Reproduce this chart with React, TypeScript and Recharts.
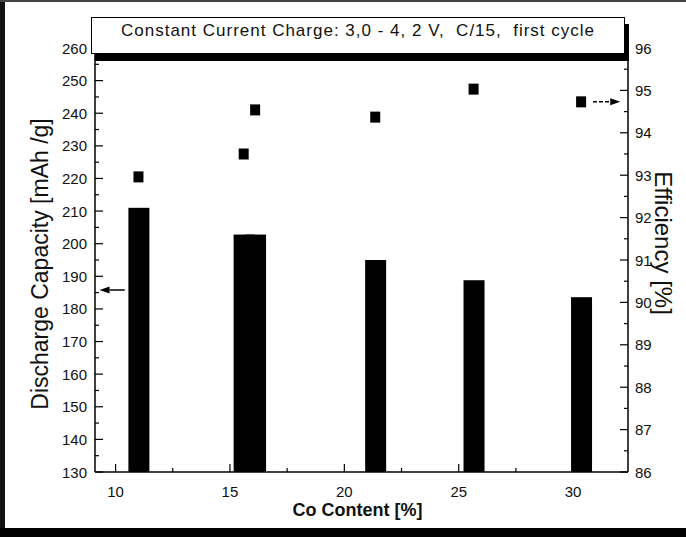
import React from 'react';
import { ComposedChart, Bar, Scatter, XAxis, YAxis, ReferenceLine, Label } from 'recharts';

const FONT = '"Liberation Sans", Arial, Helvetica, sans-serif';

// Co content [%] of each sample
const coContent = [11.0, 15.6, 16.1, 21.35, 25.65, 30.35];
// first-cycle discharge capacity [mAh/g] -> bars, left axis
const capacity = [211, 202.8, 202.8, 195, 188.8, 183.6];
// efficiency [%] -> squares, right axis
const efficiency = [92.96, 93.5, 94.54, 94.37, 95.03, 94.73];

const xTicks = [10, 12.5, 15, 17.5, 20, 22.5, 25, 27.5, 30];
const capTicks = [130, 135, 140, 145, 150, 155, 160, 165, 170, 175, 180, 185, 190, 195, 200, 205, 210, 215, 220, 225, 230, 235, 240, 245, 250, 255, 260];
const effTicks = [86, 86.5, 87, 87.5, 88, 88.5, 89, 89.5, 90, 90.5, 91, 91.5, 92, 92.5, 93, 93.5, 94, 94.5, 95, 95.5, 96];

// arrows pointing at the axis each series belongs to
const capArrow = { y: 185.8, from: 10.4, to: 9.3 };
const effArrow = { y: 94.73, from: 30.87, to: 32.06 };

const rows = coContent.map((x, i) => ({ x, cap: capacity[i], eff: efficiency[i] }));

const TM = 6; // tick margin on every axis
const BAR_W = 21;

const LeftTick = (p: any) => {
  const v = p.payload.value;
  const ax = p.x + TM;
  const major = v % 10 === 0;
  return (
    <g>
      <line x1={ax} x2={ax + (major ? 8 : 4)} y1={p.y} y2={p.y} stroke="#000" strokeWidth={1.2} />
      {major && (
        <text x={ax - 8} y={p.y} textAnchor="end" dominantBaseline="central" fontSize={15} fill="#111" fontFamily={FONT}>
          {v}
        </text>
      )}
    </g>
  );
};

const RightTick = (p: any) => {
  const v = p.payload.value;
  const ax = p.x - TM;
  const major = Number.isInteger(v);
  return (
    <g>
      <line x1={ax - (major ? 8 : 4)} x2={ax} y1={p.y} y2={p.y} stroke="#000" strokeWidth={1.2} />
      {major && (
        <text x={ax + 7} y={p.y} textAnchor="start" dominantBaseline="central" fontSize={15} fill="#111" fontFamily={FONT}>
          {v}
        </text>
      )}
    </g>
  );
};

const BottomTick = (p: any) => {
  const v = p.payload.value;
  const ay = p.y - TM;
  const major = v % 5 === 0;
  return (
    <g>
      <line x1={p.x} x2={p.x} y1={ay} y2={ay - (major ? 8 : 4)} stroke="#000" strokeWidth={1.2} />
      {major && (
        <text x={p.x} y={ay + 25} textAnchor="middle" fontSize={15} fill="#111" fontFamily={FONT}>
          {v}
        </text>
      )}
    </g>
  );
};

// bars keep a fixed width even where two samples sit close together
const FixedBar = (p: any) => {
  const cx = p.x + p.width / 2;
  return <rect x={cx - BAR_W / 2} y={p.y} width={BAR_W} height={p.height} fill="#000" />;
};

const Square = (p: any) => <rect x={p.cx - 5} y={p.cy - 5.5} width={10} height={11} fill="#000" />;

const Arrow = (dashed: boolean) => (p: any) => {
  const { x1, y1, x2 } = p;
  const dir = x2 > x1 ? 1 : -1;
  const base = x2 - dir * 10;
  return (
    <g>
      <line x1={x1} y1={y1} x2={base} y2={y1} stroke="#000" strokeWidth={1.5} strokeDasharray={dashed ? '4 2' : undefined} />
      <polygon points={`${x2},${y1} ${base},${y1 - 3.5} ${base},${y1 + 3.5}`} fill="#000" />
    </g>
  );
};

const LeftTitle = (p: any) => {
  const { x, y, height } = p.viewBox;
  const cx = x + 5;
  const cy = y + height / 2 + 4;
  return (
    <text x={cx} y={cy} transform={`rotate(-90 ${cx} ${cy})`} textAnchor="middle" dominantBaseline="central" fontSize={23} fill="#111" fontFamily={FONT}>
      Discharge Capacity [mAh /g]
    </text>
  );
};

const RightTitle = (p: any) => {
  const { x, y, height } = p.viewBox;
  const cx = x + 35;
  const cy = y + height / 2 - 17;
  return (
    <text x={cx} y={cy} transform={`rotate(90 ${cx} ${cy})`} textAnchor="middle" dominantBaseline="central" fontSize={24} fill="#111" fontFamily={FONT}>
      Efficiency [%]
    </text>
  );
};

const BottomTitle = (p: any) => {
  const { x, y, width } = p.viewBox;
  return (
    <text x={x + width / 2 - 4} y={y + 44} textAnchor="middle" fontSize={18} fontWeight="bold" fill="#111" fontFamily={FONT}>
      Co Content [%]
    </text>
  );
};

export default function App() {
  return (
    <div style={{ position: 'absolute', left: 0, top: 0, width: 686, height: 537, background: '#fff', overflow: 'hidden', fontFamily: FONT }}>
      <ComposedChart width={686} height={537} data={rows} margin={{ top: 48, right: 8, bottom: 25, left: 35 }}>
        <XAxis
          dataKey="x"
          type="number"
          domain={[9.1, 32.4]}
          allowDataOverflow
          ticks={xTicks}
          interval={0}
          tickSize={0}
          tickMargin={TM}
          tickLine={false}
          tick={BottomTick}
          height={40}
          axisLine={{ stroke: '#000', strokeWidth: 1.5 }}
        >
          <Label content={BottomTitle} />
        </XAxis>
        <YAxis
          yAxisId="left"
          type="number"
          domain={[130, 260]}
          allowDataOverflow
          ticks={capTicks}
          interval={0}
          tickSize={0}
          tickMargin={TM}
          tickLine={false}
          tick={LeftTick}
          width={60}
          axisLine={{ stroke: '#000', strokeWidth: 1.5 }}
        >
          <Label content={LeftTitle} />
        </YAxis>
        <YAxis
          yAxisId="right"
          orientation="right"
          type="number"
          domain={[86, 96]}
          allowDataOverflow
          ticks={effTicks}
          interval={0}
          tickSize={0}
          tickMargin={TM}
          tickLine={false}
          tick={RightTick}
          width={50}
          axisLine={{ stroke: '#000', strokeWidth: 1.5 }}
        >
          <Label content={RightTitle} />
        </YAxis>
        <Bar dataKey="cap" yAxisId="left" barSize={BAR_W} shape={FixedBar} isAnimationActive={false} />
        <Scatter dataKey="eff" yAxisId="right" shape={Square} isAnimationActive={false} />
        <ReferenceLine
          yAxisId="left"
          segment={[{ x: capArrow.from, y: capArrow.y }, { x: capArrow.to, y: capArrow.y }]}
          shape={Arrow(false)}
        />
        <ReferenceLine
          yAxisId="right"
          segment={[{ x: effArrow.from, y: effArrow.y }, { x: effArrow.to, y: effArrow.y }]}
          shape={Arrow(true)}
        />
      </ComposedChart>
      <div
        style={{
          position: 'absolute',
          left: 91,
          top: 17,
          width: 534,
          height: 37,
          boxSizing: 'border-box',
          border: '1px solid #000',
          boxShadow: '4px 7px 0 #000',
          background: '#fff',
          fontSize: 17,
          letterSpacing: 1,
          color: '#111',
          textAlign: 'center',
          lineHeight: '26px',
          whiteSpace: 'pre',
        }}
      >
        {'Constant Current Charge: 3,0 - 4, 2 V,  C/15,  first cycle'}
      </div>
      <div style={{ position: 'absolute', left: 0, top: 0, width: 5, height: 537, background: '#111' }} />
      <div style={{ position: 'absolute', left: 0, top: 528, width: 686, height: 9, background: '#000' }} />
      <div style={{ position: 'absolute', left: 0, top: 0, width: 686, height: 2, background: '#444' }} />
    </div>
  );
}
